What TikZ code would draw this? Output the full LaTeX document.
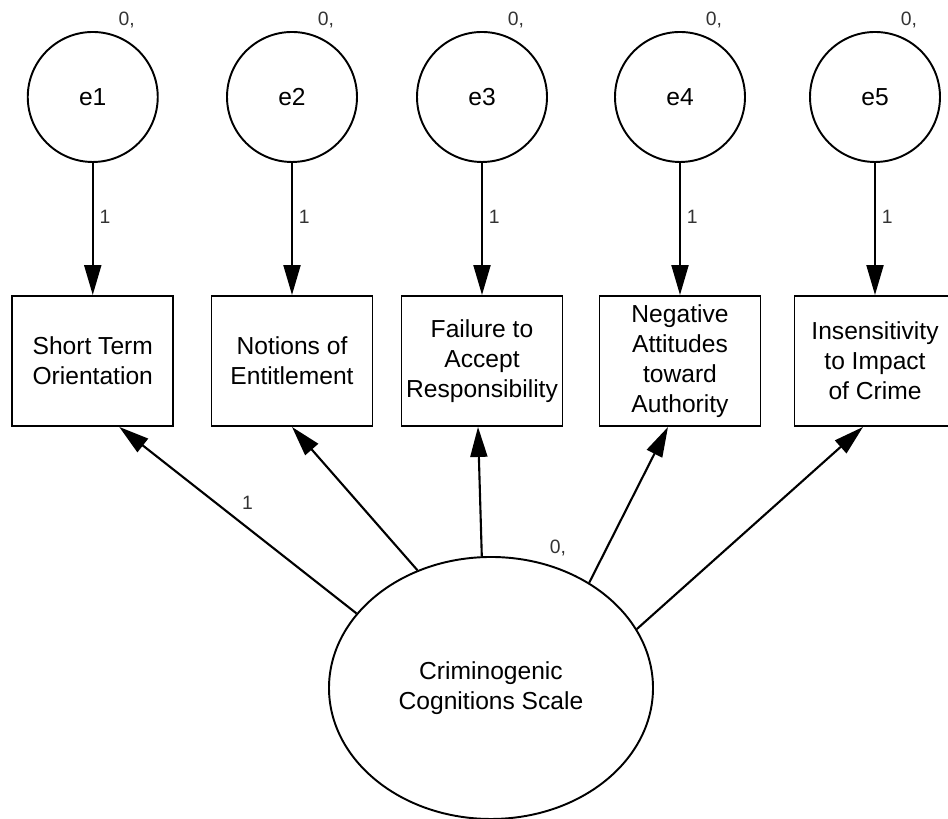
\documentclass[tikz,border=0pt]{standalone}
\usepackage{fontspec}
\setmainfont{Liberation Sans}
\usetikzlibrary{arrows.meta,shapes.geometric}

\begin{document}
\begin{tikzpicture}[
  errcirc/.style={draw, circle, line width=1.1pt, minimum size=2.6cm, inner sep=0pt, font=\fontsize{14}{17}\selectfont},
  obsbox/.style={draw, rectangle, line width=1.1pt, minimum width=3.22cm, minimum height=2.6cm, inner sep=1pt, align=center, font=\fontsize{14}{17}\selectfont},
  latent/.style={draw, ellipse, line width=1.1pt, minimum width=6.48cm, minimum height=5.24cm, inner sep=0pt, align=center, font=\fontsize{14}{17}\selectfont},
  path/.style={line width=1.2pt, -{Triangle[length=0.6cm,width=0.34cm]}},
  lbl/.style={font=\fontsize{11}{13}\selectfont, text=black!80}
]
\useasboundingbox (0,0) rectangle (18.96,16.38);

% Error terms
\node[errcirc] (e1) at (1.855,14.44) {e1};
\node[errcirc] (e2) at (5.84,14.44) {e2};
\node[errcirc] (e3) at (9.64,14.44) {e3};
\node[errcirc] (e4) at (13.6,14.44) {e4};
\node[errcirc] (e5) at (17.5,14.44) {e5};

% Means / variances of the errors
\node[lbl] (v1) at ([shift={(0.68,1.54)}]e1.center) {0,};
\node[lbl] (v2) at ([shift={(0.68,1.54)}]e2.center) {0,};
\node[lbl] (v3) at ([shift={(0.68,1.54)}]e3.center) {0,};
\node[lbl] (v4) at ([shift={(0.68,1.54)}]e4.center) {0,};
\node[lbl] (v5) at ([shift={(0.68,1.54)}]e5.center) {0,};

% Observed subscales
\node[obsbox] (sto) at (1.855,9.16) {Short Term\\Orientation};
\node[obsbox] (noe) at (5.84,9.16) {Notions of\\Entitlement};
\node[obsbox] (far) at (9.64,9.16) {Failure to\\Accept\\Responsibility};
\node[obsbox] (naa) at (13.6,9.16) {Negative\\Attitudes\\toward\\Authority};
\node[obsbox] (iic) at (17.5,9.16) {Insensitivity\\to Impact\\of Crime};

% Latent factor
\node[latent] (ccs) at (9.82,2.62) {Criminogenic\\Cognitions Scale};
\node[lbl] (vc) at ([shift={(1.34,2.8)}]ccs.center) {0,};

% Error paths
\draw[path] (e1) -- (sto) node[lbl, pos=0.41, right] {1};
\draw[path] (e2) -- (noe) node[lbl, pos=0.41, right] {1};
\draw[path] (e3) -- (far) node[lbl, pos=0.41, right] {1};
\draw[path] (e4) -- (naa) node[lbl, pos=0.41, right] {1};
\draw[path] (e5) -- (iic) node[lbl, pos=0.41, right] {1};

% Factor loadings
\draw[path] (ccs.151) -- ([xshift=0.53cm]sto.south) node[lbl, pos=0.46, above=0.22cm] {1};
\draw[path] (ccs.122) -- (noe.south);
\draw[path] (ccs.94) -- ([xshift=-0.08cm]far.south);
\draw[path] (ccs.47) -- ([xshift=-0.24cm]naa.south);
\draw[path] (ccs.22) -- ([xshift=-0.24cm]iic.south);

\end{tikzpicture}
\end{document}
